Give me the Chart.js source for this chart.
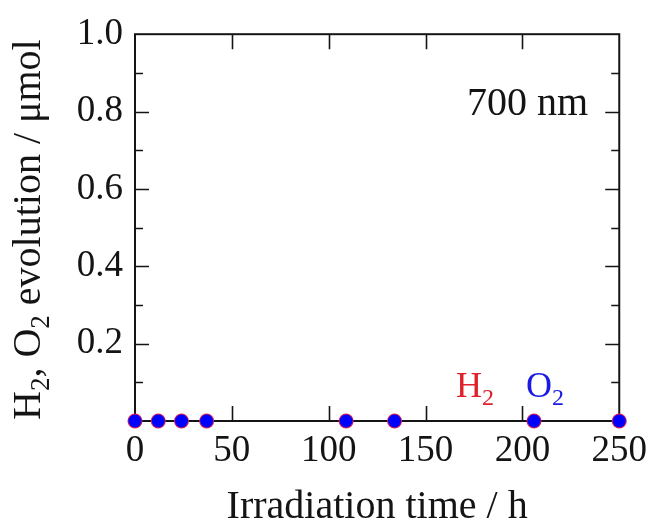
<!DOCTYPE html>
<html>
<head>
<meta charset="utf-8">
<script src="https://cdn.jsdelivr.net/npm/chart.js@4.4.1/dist/chart.umd.min.js"></script>
<style>
  html, body { margin: 0; padding: 0; background: #fff; }
  #wrap { width: 655px; height: 525px; }
</style>
</head>
<body>
<div id="wrap"><canvas id="chart" width="655" height="525"></canvas></div>
<script>
// irradiation time (h) and gas amounts (umol) - nothing evolved at 700 nm
const hours = [0, 12, 24, 37, 109, 134, 206, 250];
const h2Values = [0, 0, 0, 0, 0, 0, 0, 0];
const o2Values = [0, 0, 0, 0, 0, 0, 0, 0];

const xMajorTicks = [50, 100, 150, 200];
const yMajorTicks = [0.2, 0.4, 0.6, 0.8];
const yMinorTicks = [0.1, 0.3, 0.5, 0.7, 0.9];

const SERIF = "'Liberation Serif', 'Times New Roman', serif";
const INK = '#141414';

function toPoints(xs, ys) {
    return xs.map((x, i) => ({ x: x, y: ys[i] }));
}

// text with subscripts, runs = [{t, sub}]
function drawRuns(ctx, runs, x, y, size, color, center) {
    const subSize = Math.round(size * 0.68);
    let total = 0;
    runs.forEach(r => {
        ctx.font = (r.sub ? subSize : size) + 'px ' + SERIF;
        r.w = ctx.measureText(r.t).width;
        total += r.w;
    });
    let cx = center ? x - total / 2 : x;
    ctx.fillStyle = color;
    ctx.textBaseline = 'alphabetic';
    ctx.textAlign = 'left';
    runs.forEach(r => {
        ctx.font = (r.sub ? subSize : size) + 'px ' + SERIF;
        ctx.fillText(r.t, cx, r.sub ? y + size * 0.22 : y);
        cx += r.w;
    });
}

const framePlugin = {
    id: 'frame',
    beforeDatasetsDraw(chart) {
        const { ctx, chartArea: a, scales } = chart;
        ctx.save();
        ctx.strokeStyle = INK;
        ctx.lineWidth = 2;
        ctx.strokeRect(a.left, a.top, a.right - a.left, a.bottom - a.top);
        ctx.lineWidth = 1.6;
        ctx.beginPath();
        xMajorTicks.forEach(v => {
            const px = Math.round(scales.x.getPixelForValue(v)) + 0.5;
            ctx.moveTo(px, a.bottom); ctx.lineTo(px, a.bottom - 15);
            ctx.moveTo(px, a.top); ctx.lineTo(px, a.top + 15);
        });
        yMajorTicks.forEach(v => {
            const py = Math.round(scales.y.getPixelForValue(v)) + 0.5;
            ctx.moveTo(a.left, py); ctx.lineTo(a.left + 14, py);
            ctx.moveTo(a.right, py); ctx.lineTo(a.right - 14, py);
        });
        yMinorTicks.forEach(v => {
            const py = Math.round(scales.y.getPixelForValue(v)) + 0.5;
            ctx.moveTo(a.left, py); ctx.lineTo(a.left + 8, py);
            ctx.moveTo(a.right, py); ctx.lineTo(a.right - 8, py);
        });
        ctx.stroke();
        ctx.restore();
    },
    afterDraw(chart) {
        const { ctx, chartArea: a } = chart;
        ctx.save();
        // y axis title, rotated
        ctx.translate(40, (a.top + a.bottom) / 2 + 2);
        ctx.rotate(-Math.PI / 2);
        drawRuns(ctx, [
            { t: 'H' }, { t: '2', sub: true }, { t: ', O' }, { t: '2', sub: true },
            { t: ' evolution / \u03bcmol' }
        ], 0, 0, 40, INK, true);
        ctx.restore();

        ctx.save();
        drawRuns(ctx, [{ t: '700 nm' }], 467, 115, 40, INK, false);
        drawRuns(ctx, [{ t: 'H' }, { t: '2', sub: true }], 456, 397, 36, '#e0202a', false);
        drawRuns(ctx, [{ t: 'O' }, { t: '2', sub: true }], 526, 397, 36, '#1a1ae6', false);
        ctx.restore();
    }
};

const ctx = document.getElementById('chart').getContext('2d');
new Chart(ctx, {
    type: 'scatter',
    data: {
        datasets: [
            {
                label: 'O2',
                data: toPoints(hours, o2Values),
                pointRadius: 6.5,
                pointBackgroundColor: '#0000ff',
                pointBorderWidth: 0,
                clip: false,
                order: 0
            },
            {
                label: 'H2',
                data: toPoints(hours, h2Values),
                pointRadius: 7.5,
                pointBackgroundColor: '#d8205a',
                pointBorderWidth: 0,
                clip: false,
                order: 1
            }
        ]
    },
    options: {
        responsive: false,
        animation: false,
        layout: { padding: { top: 31, right: 34, left: 0, bottom: 0 } },
        plugins: { legend: { display: false }, tooltip: { enabled: false } },
        scales: {
            x: {
                type: 'linear',
                min: 0,
                max: 250,
                grid: { display: false, drawTicks: false },
                border: { display: false },
                ticks: {
                    stepSize: 50,
                    padding: 8,
                    color: INK,
                    maxRotation: 0,
                    font: { family: SERIF, size: 37 }
                },
                title: {
                    display: true,
                    text: 'Irradiation time / h',
                    color: INK,
                    padding: 0,
                    font: { family: SERIF, size: 40, lineHeight: 0.9 }
                },
                afterFit: s => { s.height = 104; }
            },
            y: {
                min: 0,
                max: 1,
                grid: { display: false, drawTicks: false },
                border: { display: false },
                ticks: {
                    stepSize: 0.2,
                    padding: 12,
                    color: INK,
                    font: { family: SERIF, size: 37 },
                    callback: v => v === 0 ? '' : v.toFixed(1)
                },
                afterFit: s => { s.width = 135; }
            }
        }
    },
    plugins: [framePlugin]
});
</script>
</body>
</html>
